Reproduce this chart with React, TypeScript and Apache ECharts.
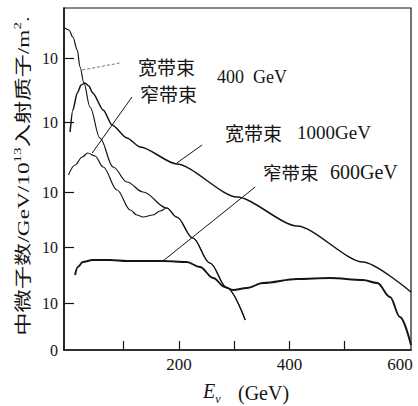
import React, { useEffect, useRef } from "react";
import * as echarts from "echarts";

// Curves: [E (GeV), relative height on the chart's (unlabelled-exponent) scale]
const wide400 = [[-6, 322], [1, 320], [8, 313], [16, 300], [21, 283], [28, 267], [39, 243], [57, 212], [81, 183], [106, 168], [135, 158], [178, 142], [196, 133], [225, 112], [256, 87], [287, 62], [320, 30]];
const narrow400 = [[0, 175], [12, 185], [25, 193], [35, 197], [48, 194], [63, 183], [88, 160], [112, 140], [124, 135], [135, 133], [153, 135], [166, 139], [178, 142], [196, 133], [225, 112], [256, 87], [287, 62], [320, 30]];
const wide1000 = [[3, 218], [8, 240], [16, 257], [23, 265], [30, 267], [37, 264], [44, 257], [63, 240], [79, 225], [106, 212], [130, 203], [196, 186], [305, 153], [414, 124], [533, 88], [620, 58]];
const narrow600 = [[12, 75], [17, 83], [26, 88], [44, 90], [75, 90], [106, 89], [171, 89], [214, 88], [238, 83], [262, 72], [283, 63], [298, 60], [323, 62], [352, 67], [414, 71], [473, 72], [533, 70], [559, 67], [582, 53], [600, 33], [620, 5]];

// Leader lines from labels to curves
const ptrWide400 = [[25, 280], [93, 287]];
const ptrNarrow400 = [[43, 197], [115, 253]];
const ptrWide1000 = [[196, 187], [242, 205]];
const ptrNarrow600 = [[171, 89], [338, 163]];

// Axis ticks / labels
const xTickValues = [100, 200, 300, 400, 500];
const xLabelValues = [200, 400, 600];
const yTickValues = [47, 103, 158, 228, 292];
const yLabelValues = [0, 47, 103, 158, 228, 292];

const SERIF = "Liberation Serif, DejaVu Serif, Noto Sans CJK SC, serif";
const CJK = "Noto Sans CJK SC, Liberation Serif, serif";
const INK = "#151515";

export default function App() {
  const ref = useRef<HTMLDivElement>(null);
  useEffect(() => {
    document.body.style.margin = "0";
    const chart = echarts.init(ref.current!, null, { renderer: "svg" });
    const curve = (name: string, data: number[][], width: number, smooth = 0.35) => ({
      type: "line", name, data, symbol: "none", smooth, smoothMonotone: "x",
      lineStyle: { color: INK, width }, silent: true,
    });
    const ptr = (data: number[][], dashed = false) => ({
      type: "line", data, symbol: "none",
      lineStyle: { color: dashed ? "#666" : INK, width: dashed ? 0.9 : 1, type: dashed ? [3, 2] : "solid" }, silent: true,
    });
    const text = (x: number, y: number, t: string, size: number, family: string) => ({
      type: "text", x, y,
      style: { text: t, fontSize: size, fontFamily: family, fill: INK, textVerticalAlign: "middle" },
    });
    chart.setOption({
      animation: false,
      backgroundColor: "#fff",
      grid: { left: 64, top: 8, width: 347, height: 342, show: true, borderColor: INK, borderWidth: 1.2 },
      xAxis: {
        type: "value", min: -8, max: 620,
        axisLine: { show: true, onZero: false, lineStyle: { color: INK, width: 1.6 } },
        splitLine: { show: false },
        axisTick: { show: true, inside: true, length: 9, customValues: xTickValues, lineStyle: { color: INK, width: 1.2 } },
        axisLabel: { customValues: xLabelValues, fontFamily: SERIF, fontSize: 17, color: INK, margin: 6 },
      },
      yAxis: {
        type: "value", min: 0, max: 342,
        axisLine: { show: true, onZero: false, lineStyle: { color: INK, width: 1.6 } },
        splitLine: { show: false },
        axisTick: { show: true, inside: true, length: 10, customValues: yTickValues, lineStyle: { color: INK, width: 1.2 } },
        axisLabel: {
          customValues: yLabelValues, fontFamily: SERIF, fontSize: 16, color: INK, margin: 6,
          formatter: (v: number) => (v === 0 ? "0" : "10"),
        },
      },
      series: [
        curve("宽带束 400 GeV", wide400, 1.2),
        curve("窄带束 400 GeV", narrow400, 1.2),
        curve("宽带束 1000GeV", wide1000, 1.5, 0.25),
        curve("窄带束 600GeV", narrow600, 1.9),
        ptr(ptrWide400, true),
        ptr(ptrNarrow400),
        ptr(ptrWide1000),
        ptr(ptrNarrow600),
      ],
      graphic: [
        text(138, 66, "宽带束", 19, CJK),
        text(140, 93, "窄带束", 19, CJK),
        text(217, 77, "400  GeV", 18, SERIF),
        text(225, 132, "宽带束", 19, CJK),
        text(297, 132, "1000GeV", 19, SERIF),
        text(263, 172, "窄带束", 18.5, CJK),
        text(330, 172, "600GeV", 20, SERIF),
        {
          type: "text", x: 22, y: 176, rotation: Math.PI / 2, scaleX: 1.37,
          style: {
            text: "{n|中微子数/GeV/10}{s|13}{n|入射质子/m}{s|2}{n|.}",
            textAlign: "center", textVerticalAlign: "middle", fill: INK,
            rich: {
              n: { fontSize: 17, fontFamily: SERIF, fill: INK, lineHeight: 20, verticalAlign: "bottom" },
              s: { fontSize: 11, fontFamily: SERIF, fill: INK, lineHeight: 20, verticalAlign: "top" },
            },
          },
        },
        {
          type: "text", x: 203, y: 393,
          style: {
            text: "{i|E}{sub|ν}",
            textVerticalAlign: "middle", fill: INK,
            rich: {
              i: { fontSize: 20, fontFamily: SERIF, fontStyle: "italic", fill: INK, lineHeight: 24, verticalAlign: "top" },
              sub: { fontSize: 12, fontFamily: SERIF, fontStyle: "italic", fill: INK, lineHeight: 24, verticalAlign: "bottom" },
            },
          },
        },
        text(238, 393, "(GeV)", 20, SERIF),
      ],
    });
    return () => chart.dispose();
  }, []);
  return <div ref={ref} style={{ width: 418, height: 406 }} />;
}
